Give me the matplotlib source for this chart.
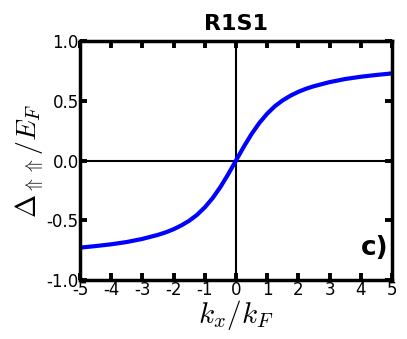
import numpy as np
import matplotlib
matplotlib.use("Agg")
import matplotlib.pyplot as plt

plt.rcParams['axes.unicode_minus'] = False
plt.rcParams['mathtext.fontset'] = 'cm'
plt.rcParams['font.family'] = 'DejaVu Sans'

# curve values (odd function, only x >= 0 listed)
kx_pos = [0.0, 0.25, 0.5, 0.75, 1.0, 1.25, 1.5, 1.75, 2.0, 2.25, 2.5, 3.0, 3.5, 4.0, 4.5, 5.0]
delta_pos = [0.0, 0.115, 0.222, 0.315, 0.392, 0.455, 0.504, 0.543, 0.575, 0.601, 0.622,
             0.656, 0.682, 0.701, 0.716, 0.729]

kx = [-v for v in kx_pos[::-1]] + kx_pos[1:]
delta = [-v for v in delta_pos[::-1]] + delta_pos[1:]

xticks = [-5, -4, -3, -2, -1, 0, 1, 2, 3, 4, 5]
yticks = [-1.0, -0.5, 0.0, 0.5, 1.0]

fig = plt.figure(figsize=(4.07, 3.39), dpi=100)
ax = fig.add_axes([0.1966, 0.174, 0.7664, 0.705])

ax.axhline(0, color='black', lw=1.5, zorder=1)
ax.axvline(0, color='black', lw=1.5, zorder=1)
ax.plot(kx, delta, color='blue', lw=3, zorder=2)

ax.set_xlim(-5, 5)
ax.set_ylim(-1.0, 1.0)
ax.set_xticks(xticks)
ax.set_yticks(yticks)
ax.set_xticklabels([str(t) for t in xticks])
ax.set_yticklabels(["%.1f" % t for t in yticks])

for s in ax.spines.values():
    s.set_linewidth(2.5)
ax.tick_params(direction='in', length=5, width=2.8, top=True, right=True,
               labelsize=12, pad=1)

ax.set_title("R1S1", fontsize=16, fontweight='bold', pad=8)
ax.set_xlabel(r"$k_x/k_F$", fontsize=21, labelpad=-1)
ax.set_ylabel(r"$\Delta_{\Uparrow\Uparrow}/E_F$", fontsize=20, labelpad=1)
ax.text(0.988, 0.134, "c)", transform=ax.transAxes, ha='right', va='center',
        fontsize=19, fontweight='bold')

fig.savefig("out.png", dpi=100)
